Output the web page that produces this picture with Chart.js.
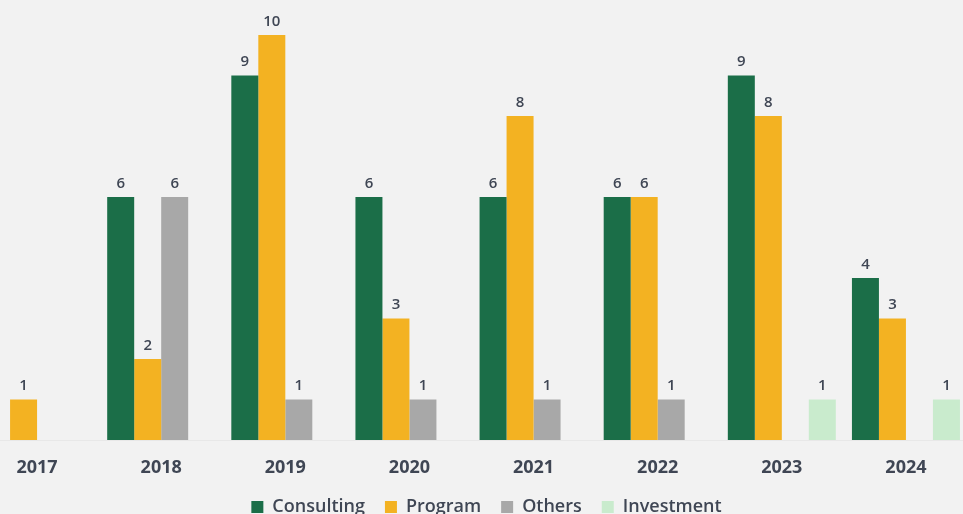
<!DOCTYPE html>
<html>
<head>
<meta charset="utf-8">
<script src="https://cdn.jsdelivr.net/npm/chart.js@4/dist/chart.umd.min.js"></script>
<style>
  html, body { margin: 0; padding: 0; background: #f2f2f2; overflow: hidden; }
  #wrap { position: absolute; left: -25px; top: 0; width: 1023px; height: 526px; }
</style>
</head>
<body>
<div id="wrap"><canvas id="c"></canvas></div>
<script>
const years = ['2017', '2018', '2019', '2020', '2021', '2022', '2023', '2024'];
const consulting = [null, 6, 9, 6, 6, 6, 9, 4];
const program    = [1, 2, 10, 3, 8, 6, 8, 3];
const others     = [null, 6, 1, 1, 1, 1, null, null];
const investment = [null, null, null, null, null, null, 1, 1];

const labelColor = '#3f4654';

const valueLabels = {
  id: 'valueLabels',
  afterDatasetsDraw(chart) {
    const ctx = chart.ctx;
    ctx.save();
    ctx.font = '600 15px "Open Sans", sans-serif';
    ctx.fillStyle = labelColor;
    ctx.textAlign = 'center';
    ctx.textBaseline = 'bottom';
    chart.data.datasets.forEach((ds, i) => {
      const meta = chart.getDatasetMeta(i);
      meta.data.forEach((bar, j) => {
        const v = ds.data[j];
        if (v === null || v === undefined) return;
        ctx.fillText(String(v), bar.x, bar.y - 6);
      });
    });
    ctx.restore();
  }
};

const legendShift = {
  id: 'legendShift',
  afterLayout(chart) {
    const lg = chart.legend;
    if (lg) { lg.left += 15; lg.right += 15; }
  }
};

new Chart(document.getElementById('c'), {
  type: 'bar',
  data: {
    labels: years,
    datasets: [
      { label: 'Consulting', data: consulting, backgroundColor: '#1b6e48' },
      { label: 'Program', data: program, backgroundColor: '#f3b222' },
      { label: 'Others', data: others, backgroundColor: '#a8a8a8' },
      { label: 'Investment', data: investment, backgroundColor: '#c9ebcd' }
    ]
  },
  options: {
    responsive: true,
    maintainAspectRatio: false,
    animation: false,
    devicePixelRatio: 1,
    layout: { padding: { top: 35, right: 30, left: 0, bottom: 0 } },
    datasets: { bar: { categoryPercentage: 0.87, barPercentage: 1, grouped: true } },
    scales: {
      x: {
        grid: { display: false, drawTicks: false },
        border: { display: true, color: '#e8e8e8' },
        ticks: {
          color: labelColor,
          font: { family: '"Open Sans", sans-serif', size: 18, weight: 'bold' },
          padding: 17
        },
        afterFit(scale) {
          scale.height = 38;
          scale._computeLabelArea = function () { return undefined; };
        }
      },
      y: {
        display: false,
        min: 0,
        max: 10
      }
    },
    plugins: {
      legend: {
        position: 'bottom',
        labels: {
          color: labelColor,
          boxWidth: 12,
          boxHeight: 12,
          padding: 20,
          font: { family: '"Open Sans", sans-serif', size: 18, weight: '600' }
        }
      },
      tooltip: { enabled: false }
    }
  },
  plugins: [valueLabels, legendShift]
});
</script>
</body>
</html>
